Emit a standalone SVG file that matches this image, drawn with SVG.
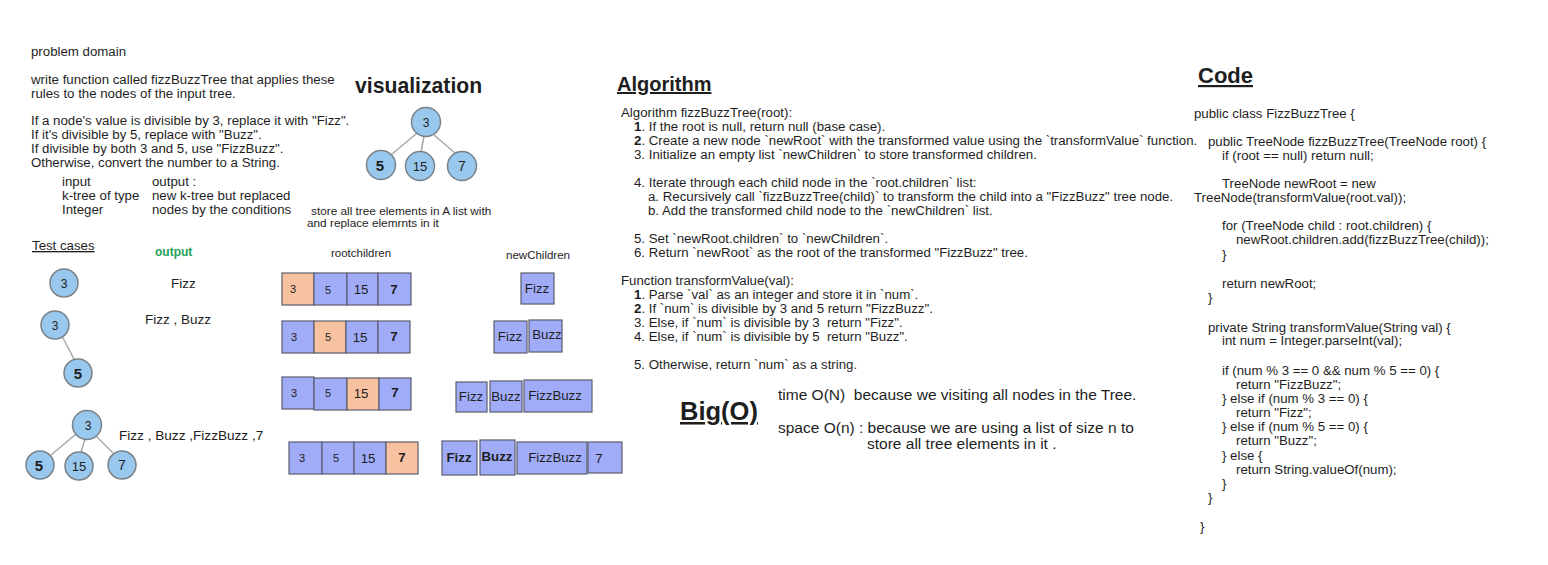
<svg xmlns="http://www.w3.org/2000/svg" width="1548" height="565" viewBox="0 0 1548 565">
<style>
text{font-family:"Liberation Sans",Arial,sans-serif;fill:#1e1e1e;white-space:pre}
.t{font-size:13.25px}
.s{font-size:11px}
.h{font-size:20px;font-weight:bold;text-decoration:underline}
.c{text-anchor:middle}
.node{fill:#99c8ee;stroke:#7a8288;stroke-width:1.5}
.edge{stroke:#a8a8a8;stroke-width:1.5;fill:none}
.cb{fill:#a0acf8;stroke:#5a5d6e;stroke-width:1.2}
.co{fill:#f8c1a0;stroke:#5a5d6e;stroke-width:1.2}
.b{font-weight:bold}
.big{font-size:15.5px}
</style>
<rect width="1548" height="565" fill="#ffffff"/>

<g id="problem-domain">
<text class="t" x="31" y="56">problem domain</text>
<text class="t" x="31" y="84">write function called fizzBuzzTree that applies these</text>
<text class="t" x="31" y="98">rules to the nodes of the input tree.</text>
<text class="t" x="31" y="125">If a node's value is divisible by 3, replace it with "Fizz".</text>
<text class="t" x="31" y="139">If it's divisible by 5, replace with "Buzz".</text>
<text class="t" x="31" y="153">If divisible by both 3 and 5, use "FizzBuzz".</text>
<text class="t" x="31" y="167">Otherwise, convert the number to a String.</text>
<text class="t" x="62" y="186">input</text>
<text class="t" x="152" y="186">output :</text>
<text class="t" x="62" y="200">k-tree of type</text>
<text class="t" x="152" y="200">new k-tree but replaced</text>
<text class="t" x="62" y="214">Integer</text>
<text class="t" x="152" y="214">nodes by the conditions</text>
<text x="311" y="215" style="font-size:11.8px">store all tree elements in A list with</text>
<text x="307" y="227" style="font-size:11.8px">and replace elemrnts in it</text>
</g>

<g id="visualization">
<text x="355" y="93" style="font-size:21.2px;font-weight:bold">visualization</text>
</g>

<g id="connectors">
<line class="edge" x1="417" y1="133" x2="391" y2="155"/>
<line class="edge" x1="424" y1="136" x2="421" y2="152"/>
<line class="edge" x1="434" y1="135" x2="455" y2="153"/>
<line class="edge" x1="63" y1="338" x2="74" y2="359"/>
<line class="edge" x1="76" y1="434" x2="51" y2="455"/>
<line class="edge" x1="85" y1="439" x2="81" y2="452"/>
<line class="edge" x1="96" y1="436" x2="113" y2="453"/>
</g>

<g id="viz-root"><circle class="node" cx="426" cy="122" r="14.5"/><text class="c" x="426" y="126.5" style="font-size:12px">3</text></g>
<g id="viz-5"><circle class="node" cx="381" cy="165" r="14.5"/><text class="c b" x="380" y="170.5" style="font-size:15px">5</text></g>
<g id="viz-15"><circle class="node" cx="420" cy="166" r="14.5"/><text class="c" x="420" y="171" style="font-size:13px">15</text></g>
<g id="viz-7"><circle class="node" cx="462" cy="166" r="14.5"/><text class="c" x="462" y="171" style="font-size:14px">7</text></g>

<g id="test-cases">
<text class="t" x="32" y="250" style="text-decoration:underline">Test cases</text>
<text x="155" y="256" style="font-size:12px;font-weight:bold;fill:#1fa355">output</text>
<text x="171" y="288" style="font-size:13.5px">Fizz</text>
<text x="145" y="324" style="font-size:13.5px">Fizz , Buzz</text>
<text x="119" y="440" style="font-size:13.6px">Fizz , Buzz ,FizzBuzz ,7</text>
</g>
<g id="t1-3"><circle class="node" cx="64" cy="283" r="14"/><text class="c" x="64" y="287.5" style="font-size:12px">3</text></g>
<g id="t2-3"><circle class="node" cx="55" cy="325" r="14"/><text class="c" x="55" y="329.5" style="font-size:12px">3</text></g>
<g id="t2-5"><circle class="node" cx="78" cy="373" r="14"/><text class="c b" x="78" y="378.5" style="font-size:15px">5</text></g>
<g id="t3-3"><circle class="node" cx="87" cy="425" r="14.5"/><text class="c" x="88" y="429.5" style="font-size:12px">3</text></g>
<g id="t3-5"><circle class="node" cx="40" cy="465" r="14"/><text class="c b" x="39" y="470.5" style="font-size:15px">5</text></g>
<g id="t3-15"><circle class="node" cx="79" cy="466" r="14"/><text class="c" x="79" y="471" style="font-size:13px">15</text></g>
<g id="t3-7"><circle class="node" cx="122" cy="465" r="14"/><text class="c" x="122" y="470" style="font-size:14px">7</text></g>

<g id="rootchildren">
<text class="c" x="361" y="257" style="font-size:11.5px">rootchildren</text>
<rect class="co" x="282" y="273" width="32" height="32"/><text class="c s" x="293" y="293">3</text>
<rect class="cb" x="314" y="273" width="33" height="32"/><text class="c s" x="328" y="294">5</text>
<rect class="cb" x="347" y="273" width="31" height="32"/><text class="c t" x="361" y="294">15</text>
<rect class="cb" x="378" y="273" width="33" height="32"/><text class="c t b" x="394" y="294">7</text>

<rect class="cb" x="282" y="321" width="32" height="32"/><text class="c s" x="294" y="341">3</text>
<rect class="co" x="314" y="321" width="32" height="32"/><text class="c s" x="328" y="341">5</text>
<rect class="cb" x="346" y="321" width="32" height="32"/><text class="c t" x="360" y="342">15</text>
<rect class="cb" x="378" y="321" width="32" height="32"/><text class="c t b" x="394" y="341">7</text>

<rect class="cb" x="282" y="377" width="32" height="32"/><text class="c s" x="294" y="397">3</text>
<rect class="cb" x="314" y="378" width="33" height="32"/><text class="c s" x="328" y="397">5</text>
<rect class="co" x="347" y="378" width="32" height="32"/><text class="c t" x="361" y="398">15</text>
<rect class="cb" x="379" y="378" width="32" height="32"/><text class="c t b" x="395" y="397">7</text>

<rect class="cb" x="289" y="442" width="33" height="32"/><text class="c s" x="302" y="462">3</text>
<rect class="cb" x="322" y="442" width="32" height="32"/><text class="c s" x="336" y="462">5</text>
<rect class="cb" x="354" y="442" width="32" height="32"/><text class="c t" x="368" y="463">15</text>
<rect class="co" x="386" y="442" width="32" height="32"/><text class="c t b" x="402" y="462">7</text>
</g>

<g id="newChildren">
<text class="c" x="538" y="259" style="font-size:11.5px">newChildren</text>
<rect class="cb" x="521" y="273" width="33" height="31"/><text class="c t" x="537" y="293">Fizz</text>

<rect class="cb" x="494" y="321" width="33" height="32"/><text class="c t" x="510" y="341">Fizz</text>
<rect class="cb" x="529" y="320" width="33" height="32"/><text class="c t" x="547" y="339">Buzz</text>

<rect class="cb" x="456" y="382" width="31" height="30"/><text class="c t" x="471" y="401">Fizz</text>
<rect class="cb" x="490" y="381" width="32" height="31"/><text class="c t" x="506" y="401">Buzz</text>
<rect class="cb" x="524" y="380" width="68" height="32"/><text class="c t" x="555" y="400">FizzBuzz</text>

<rect class="cb" x="442" y="441" width="35" height="34"/><text class="c t b" x="459" y="462">Fizz</text>
<rect class="cb" x="480" y="440" width="35" height="35"/><text class="c t b" x="497" y="461">Buzz</text>
<rect class="cb" x="517" y="442" width="70" height="32"/><text class="c t" x="555" y="462">FizzBuzz</text>
<rect class="cb" x="588" y="442" width="34" height="31"/><text class="c t" x="599" y="463">7</text>
</g>

<g id="algorithm">
<text class="h" x="617" y="91">Algorithm</text>
<text class="t" x="621" y="117">Algorithm fizzBuzzTree(root):</text>
<text class="t" x="634" y="131"><tspan class="b">1</tspan>. If the root is null, return null (base case).</text>
<text class="t" x="634" y="145"><tspan class="b">2</tspan>. Create a new node `newRoot` with the transformed value using the `transformValue` function.</text>
<text class="t" x="634" y="159">3. Initialize an empty list `newChildren` to store transformed children.</text>
<text class="t" x="634" y="187">4. Iterate through each child node in the `root.children` list:</text>
<text class="t" x="648" y="201">a. Recursively call `fizzBuzzTree(child)` to transform the child into a "FizzBuzz" tree node.</text>
<text class="t" x="648" y="215">b. Add the transformed child node to the `newChildren` list.</text>
<text class="t" x="634" y="243">5. Set `newRoot.children` to `newChildren`.</text>
<text class="t" x="634" y="257">6. Return `newRoot` as the root of the transformed "FizzBuzz" tree.</text>
<text class="t" x="621" y="285">Function transformValue(val):</text>
<text class="t" x="634" y="299"><tspan class="b">1</tspan>. Parse `val` as an integer and store it in `num`.</text>
<text class="t" x="634" y="313"><tspan class="b">2</tspan>. If `num` is divisible by 3 and 5 return "FizzBuzz".</text>
<text class="t" x="634" y="327">3. Else, if `num` is divisible by 3  return "Fizz".</text>
<text class="t" x="634" y="341">4. Else, if `num` is divisible by 5  return "Buzz".</text>
<text class="t" x="634" y="369">5. Otherwise, return `num` as a string.</text>
</g>

<g id="big-o">
<text x="680" y="420" style="font-size:25.5px;font-weight:bold;text-decoration:underline">Big(O)</text>
<text class="big" x="778" y="400">time O(N)  because we visiting all nodes in the Tree.</text>
<text class="big" x="778" y="433">space O(n) : because we are using a list of size n to</text>
<text class="big" x="867" y="449">store all tree elements in it .</text>
</g>

<g id="code">
<text x="1198" y="83" style="font-size:22px;font-weight:bold;text-decoration:underline">Code</text>
<text class="t" x="1194" y="118">public class FizzBuzzTree {</text>
<text class="t" x="1208" y="146">public TreeNode fizzBuzzTree(TreeNode root) {</text>
<text class="t" x="1222" y="160">if (root == null) return null;</text>
<text class="t" x="1222" y="188">TreeNode newRoot = new</text>
<text class="t" x="1194" y="202">TreeNode(transformValue(root.val));</text>
<text class="t" x="1222" y="230">for (TreeNode child : root.children) {</text>
<text class="t" x="1236" y="244">newRoot.children.add(fizzBuzzTree(child));</text>
<text class="t" x="1222" y="259">}</text>
<text class="t" x="1222" y="288">return newRoot;</text>
<text class="t" x="1208" y="302">}</text>
<text class="t" x="1208" y="332">private String transformValue(String val) {</text>
<text class="t" x="1222" y="345">int num = Integer.parseInt(val);</text>
<text class="t" x="1222" y="375">if (num % 3 == 0 &amp;&amp; num % 5 == 0) {</text>
<text class="t" x="1236" y="389">return "FizzBuzz";</text>
<text class="t" x="1222" y="403">} else if (num % 3 == 0) {</text>
<text class="t" x="1236" y="417">return "Fizz";</text>
<text class="t" x="1222" y="431">} else if (num % 5 == 0) {</text>
<text class="t" x="1236" y="445">return "Buzz";</text>
<text class="t" x="1222" y="460">} else {</text>
<text class="t" x="1236" y="474">return String.valueOf(num);</text>
<text class="t" x="1222" y="488">}</text>
<text class="t" x="1208" y="502">}</text>
<text class="t" x="1200" y="531">}</text>
</g>
</svg>
